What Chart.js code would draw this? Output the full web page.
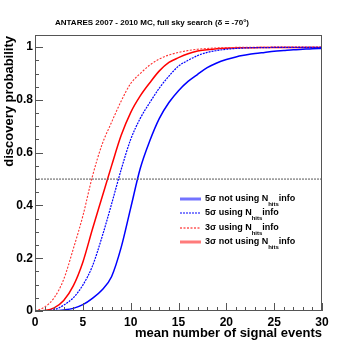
<!DOCTYPE html>
<html><head><meta charset="utf-8">
<script src="https://cdn.jsdelivr.net/npm/chart.js@4"></script>
<style>html,body{margin:0;padding:0;background:#fff}#w{width:359px;height:346px}</style>
</head><body><div id="w"><canvas id="c" width="359" height="346"></canvas></div>
<script>
const meanSignal = [0,1,2,3,4,5,6,7,8,9,10,11,12,13,14,15,16,17,18,19,20,21,22,23,24,25,26,27,28,29,30];
const p5NoNhits = [0,0,0.001,0.004,0.01,0.024,0.048,0.08,0.13,0.24,0.39,0.54,0.645,0.73,0.79,0.835,0.87,0.897,0.922,0.94,0.953,0.963,0.97,0.976,0.98,0.984,0.987,0.99,0.992,0.994,0.995];
const p5Nhits = [0,0.001,0.005,0.022,0.05,0.098,0.17,0.28,0.405,0.535,0.65,0.73,0.79,0.845,0.89,0.928,0.95,0.968,0.98,0.987,0.992,0.995,0.997,0.998,0.998,0.999,0.999,0.999,0.999,0.999,0.999];
const p3Nhits = [0,0.015,0.05,0.12,0.235,0.36,0.51,0.63,0.715,0.795,0.862,0.9,0.932,0.955,0.97,0.98,0.987,0.992,0.995,0.997,0.998,0.999,0.999,0.999,0.999,1,1,1,1,1,1];
const p3NoNhits = [0,0.002,0.012,0.04,0.095,0.185,0.31,0.43,0.55,0.665,0.752,0.815,0.865,0.91,0.942,0.96,0.975,0.985,0.99,0.994,0.996,0.997,0.998,0.998,0.999,0.999,0.999,0.999,0.999,0.999,0.999];
const thresholdX = [0,30];
const thresholdY = [0.5,0.5];
const xTicks = [0,5,10,15,20,25,30];
const yTicks = [0,0.2,0.4,0.6,0.8,1];
const legendLabels = [
  {pre:'5\u03c3 not using N', sub:'hits', post:'info'},
  {pre:'5\u03c3 using N', sub:'hits', post:'info'},
  {pre:'3\u03c3 using N', sub:'hits', post:'info'},
  {pre:'3\u03c3 not using N', sub:'hits', post:'info'}
];
const titleText = 'ANTARES 2007 - 2010 MC, full sky search (\u03b4 = -70\u00b0)';
const yTitle = 'discovery probability';
const xTitle = 'mean number of signal events';

const pts = (xa, ya) => xa.map((x,i)=>({x:x, y:ya[i]}));
const FONT = '"Liberation Sans", Arial, sans-serif';

const legendStyles = [
  {color:'rgba(90,90,255,0.85)', width:3, dash:[]},
  {color:'#0000ff', width:1, dash:[2,1]},
  {color:'#ff0000', width:1, dash:[2,1.5]},
  {color:'rgba(255,100,100,0.85)', width:3, dash:[]}
];

const deco = {
  id:'deco',
  afterDatasetsDraw(chart){
    const ctx = chart.ctx, a = chart.chartArea;
    const xs = chart.scales.x, ys = chart.scales.y;
    ctx.save();
    ctx.strokeStyle = '#555'; ctx.lineWidth = 1; ctx.setLineDash([]);
    ctx.strokeRect(a.left+0.5, a.top+0.5, a.right-a.left-1, a.bottom-a.top-1);
    ctx.beginPath();
    for (let v=0; v<=30; v++){
      const px = Math.round(xs.getPixelForValue(v))+0.5;
      const len = (v%5===0)?8:4;
      ctx.moveTo(px, a.bottom); ctx.lineTo(px, a.bottom-len);
    }
    for (let k=0; k<=20; k++){
      const v = k*0.05;
      const py = Math.round(ys.getPixelForValue(v))+0.5;
      const len = (k%4===0)?8:4;
      ctx.moveTo(a.left, py); ctx.lineTo(a.left+len, py);
    }
    ctx.stroke();
    ctx.fillStyle = '#000';
    ctx.font = 'bold 8px ' + FONT;
    ctx.textAlign = 'center'; ctx.textBaseline = 'middle';
    ctx.fillText(titleText, 152, 23);
    ctx.font = 'bold 13px ' + FONT;
    ctx.textAlign = 'right'; ctx.textBaseline = 'alphabetic';
    ctx.fillText(xTitle, a.right, 337);
    ctx.save();
    ctx.translate(12.5, a.top+1);
    ctx.rotate(-Math.PI/2);
    ctx.textAlign = 'right';
    ctx.fillText(yTitle, 0, 0);
    ctx.restore();
    const rowY = [199, 213, 228, 242];
    legendLabels.forEach((l,i)=>{
      const s = legendStyles[i];
      ctx.strokeStyle = s.color; ctx.lineWidth = s.width; ctx.setLineDash(s.dash);
      ctx.beginPath(); ctx.moveTo(180, rowY[i]); ctx.lineTo(201, rowY[i]); ctx.stroke();
      ctx.setLineDash([]);
      ctx.fillStyle = '#000';
      ctx.textAlign = 'left'; ctx.textBaseline = 'middle';
      ctx.font = 'bold 9px ' + FONT;
      let x = 205;
      ctx.fillText(l.pre, x, rowY[i]); x += ctx.measureText(l.pre).width;
      ctx.font = 'bold 6px ' + FONT;
      ctx.fillText(l.sub, x, rowY[i]+5); x += ctx.measureText(l.sub).width;
      ctx.font = 'bold 9px ' + FONT;
      ctx.fillText(l.post, x, rowY[i]);
    });
    ctx.restore();
  }
};

new Chart(document.getElementById('c'), {
  type:'line',
  data:{datasets:[
    {label:'threshold', data:pts(thresholdX, thresholdY), borderColor:'#555', borderWidth:1, borderDash:[2,1], pointRadius:0, tension:0},
    {label:'5s not using Nhits', data:pts(meanSignal, p5NoNhits), borderColor:'#0000ff', borderWidth:1.5, pointRadius:0, cubicInterpolationMode:'monotone'},
    {label:'5s using Nhits', data:pts(meanSignal, p5Nhits), borderColor:'#0000ff', borderWidth:1.2, borderDash:[2,1], pointRadius:0, cubicInterpolationMode:'monotone'},
    {label:'3s using Nhits', data:pts(meanSignal, p3Nhits), borderColor:'#ff3030', borderWidth:1.1, borderDash:[2,1.5], pointRadius:0, cubicInterpolationMode:'monotone'},
    {label:'3s not using Nhits', data:pts(meanSignal, p3NoNhits), borderColor:'#ff0000', borderWidth:1.5, pointRadius:0, cubicInterpolationMode:'monotone'}
  ]},
  options:{
    responsive:false, animation:false,
    layout:{padding:{left:0, right:37, top:35, bottom:0}},
    plugins:{legend:{display:false}, tooltip:{enabled:false}, title:{display:false}},
    scales:{
      x:{type:'linear', min:0, max:30,
        afterFit(s){ s.height = 35; },
        afterBuildTicks(s){ s.ticks = xTicks.map(v=>({value:v})); },
        grid:{display:false, drawTicks:false}, border:{display:false},
        ticks:{color:'#000', padding:4, maxRotation:0, autoSkip:false, font:{family:FONT, size:12, weight:'bold'}}
      },
      y:{type:'linear', min:0, max:1.046,
        afterFit(s){ s.width = 35; },
        afterBuildTicks(s){ s.ticks = yTicks.map(v=>({value:v})); },
        grid:{display:false, drawTicks:false}, border:{display:false},
        ticks:{color:'#000', padding:2, autoSkip:false, font:{family:FONT, size:12, weight:'bold'}, callback:(v)=>String(Math.round(v*10)/10)}
      }
    }
  },
  plugins:[deco]
});
</script>
</body></html>
